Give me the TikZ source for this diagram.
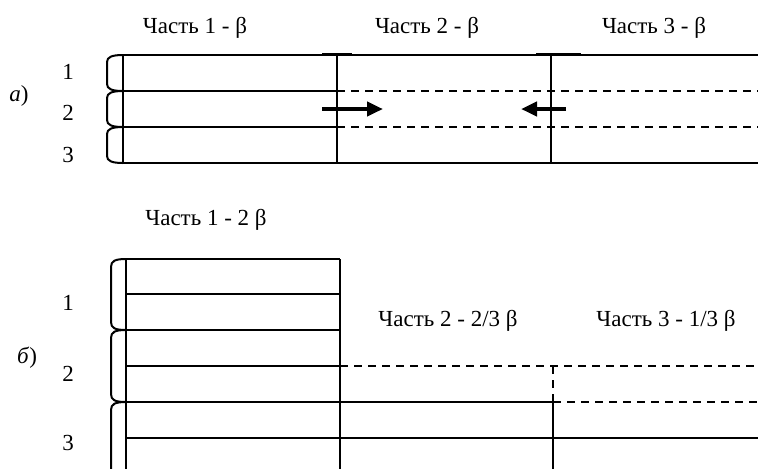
\documentclass[tikz,border=0pt]{standalone}
\usepackage{fontspec}
\setmainfont{Liberation Serif}
\usetikzlibrary{arrows.meta}
\tikzset{
  linia/.style={line width=1pt, black},
  liniaPunktir/.style={linia, dash pattern=on 4pt off 3pt},
  skobka/.style={line width=1pt, black},
  strelka/.style={line width=2pt, -{Triangle[length=8pt, width=7pt]}},
  podpis/.style={font=\fontsize{11.5}{13}\selectfont, inner sep=0pt},
}
\begin{document}
\begin{tikzpicture}[x=0.5pt, y=-0.5pt]
  \useasboundingbox (0,0) rectangle (758,468);

  % а) три равные части
  \node[podpis] (chastA1) at (195,28) {Часть 1 - β};
  \node[podpis] (chastA2) at (427,28) {Часть 2 - β};
  \node[podpis] (chastA3) at (654,28) {Часть 3 - β};
  \node[podpis] (metkaA) at (19,96) {\textit{а})};
  \node[podpis] (strokaA1) at (68,72) {1};
  \node[podpis] (strokaA2) at (68,113) {2};
  \node[podpis] (strokaA3) at (68,155) {3};

  \draw[linia] (123,55) -- (758,55);
  \draw[linia] (123,163) -- (758,163);
  \draw[linia] (123,55) -- (123,163);
  \draw[linia] (123,91) -- (337,91);
  \draw[linia] (123,127) -- (337,127);
  \draw[liniaPunktir] (337,91) -- (758,91);
  \draw[liniaPunktir] (337,127) -- (758,127);
  \draw[linia] (337,55) -- (337,163);
  \draw[linia] (551,55) -- (551,163);
  \draw[line width=1.2pt] (322,54) -- (352,54);
  \draw[line width=1.2pt] (536,54) -- (581,54);
  \draw[strelka] (322,109) -- (383,109);
  \draw[strelka] (566,109) -- (521,109);
  \foreach \ya/\yb in {55/91, 91/127, 127/163}
    \draw[skobka] (123,\ya) .. controls (112,\ya) and (107,\ya+2) .. (107,\ya+7)
      -- (107,\yb-7) .. controls (107,\yb-2) and (112,\yb) .. (123,\yb);

  % б) неравные части
  \node[podpis] (chastB1) at (206,220) {Часть 1 - 2 β};
  \node[podpis] (chastB2) at (448,321) {Часть 2 - 2/3 β};
  \node[podpis] (chastB3) at (666,321) {Часть 3 - 1/3 β};
  \node[podpis] (metkaB) at (27,358) {\textit{б})};
  \node[podpis] (strokaB1) at (68,303) {1};
  \node[podpis] (strokaB2) at (68,374) {2};
  \node[podpis] (strokaB3) at (68,443) {3};

  \draw[linia] (126,259) -- (340,259);
  \draw[linia] (126,294) -- (340,294);
  \draw[linia] (126,330) -- (340,330);
  \draw[linia] (126,366) -- (340,366);
  \draw[liniaPunktir] (340,366) -- (758,366);
  \draw[linia] (126,402) -- (553,402);
  \draw[liniaPunktir] (553,402) -- (758,402);
  \draw[linia] (126,438) -- (758,438);
  \draw[linia] (126,259) -- (126,470);
  \draw[linia] (340,259) -- (340,470);
  \draw[liniaPunktir] (553,366) -- (553,402);
  \draw[linia] (553,402) -- (553,470);
  \foreach \ya/\yb in {259/330, 330/402}
    \draw[skobka] (126,\ya) .. controls (115,\ya) and (111,\ya+2) .. (111,\ya+8)
      -- (111,\yb-8) .. controls (111,\yb-2) and (115,\yb) .. (126,\yb);
  \draw[skobka] (126,402) .. controls (115,402) and (111,404) .. (111,410) -- (111,470);
\end{tikzpicture}
\end{document}
